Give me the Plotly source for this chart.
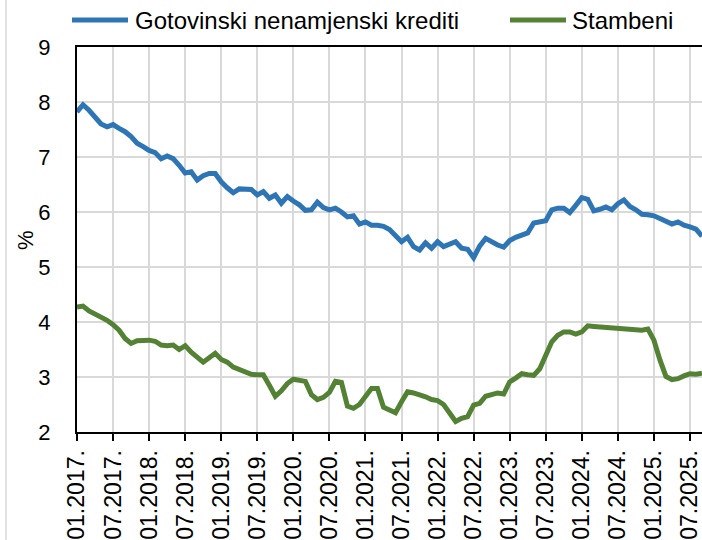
import plotly.graph_objects as go

start_year = 2017
n_months = 105  # 01.2017 .. 09.2025

gotovinski = [
    7.82, 7.95, 7.85, 7.72, 7.60, 7.55, 7.59, 7.52, 7.46, 7.37, 7.25, 7.19,
    7.12, 7.08, 6.97, 7.02, 6.97, 6.85, 6.71, 6.73, 6.58, 6.66, 6.70, 6.70,
    6.55, 6.44, 6.35, 6.42, 6.42, 6.41, 6.31, 6.37, 6.25, 6.31, 6.16, 6.28,
    6.20, 6.13, 6.03, 6.04, 6.18, 6.08, 6.04, 6.07, 6.00, 5.91, 5.93, 5.78,
    5.82, 5.76, 5.76, 5.74, 5.68, 5.58, 5.46, 5.54, 5.37, 5.31, 5.44, 5.34,
    5.46, 5.37, 5.42, 5.46, 5.34, 5.32, 5.17, 5.38, 5.52, 5.45, 5.40, 5.36,
    5.48, 5.54, 5.58, 5.62, 5.80, 5.83, 5.84, 6.04, 6.07, 6.07, 5.99, 6.12,
    6.26, 6.23, 6.02, 6.05, 6.09, 6.04, 6.15, 6.22, 6.10, 6.04, 5.96, 5.95,
    5.93, 5.88, 5.82, 5.78, 5.82, 5.76, 5.73, 5.69, 5.56,
]

stambeni = [
    4.27, 4.29, 4.20, 4.15, 4.10, 4.03, 3.95, 3.85, 3.70, 3.61, 3.66, 3.67,
    3.67, 3.65, 3.58, 3.57, 3.58, 3.50, 3.57, 3.45, 3.36, 3.27, 3.35, 3.43,
    3.32, 3.27, 3.18, 3.13, 3.10, 3.05, 3.04, 3.04, 2.85, 2.65, 2.75, 2.88,
    2.96, 2.93, 2.92, 2.68, 2.59, 2.63, 2.72, 2.92, 2.90, 2.47, 2.43, 2.50,
    2.66, 2.79, 2.79, 2.45, 2.40, 2.35, 2.55, 2.73, 2.71, 2.68, 2.64, 2.59,
    2.57, 2.50, 2.33, 2.19, 2.25, 2.28, 2.49, 2.52, 2.65, 2.67, 2.71, 2.69,
    2.91, 2.98, 3.06, 3.04, 3.03, 3.15, 3.42, 3.64, 3.76, 3.82, 3.82, 3.78,
    3.82, 3.93, 3.92, 3.91, 3.90, 3.89, 3.89, 3.89, 3.88, 3.87, 3.85, 3.87,
    3.67, 3.31, 3.01, 2.95, 2.97, 3.02, 3.06, 3.05, 3.07,
]

months = list(range(n_months))
tick_vals = list(range(0, n_months, 6))
tick_text = [f"{(m % 12) + 1:02d}.{start_year + m // 12}." for m in tick_vals]

names = ["Gotovinski nenamjenski krediti", "Stambeni"]
colors = ["#2E75B6", "#548235"]

FONT = "Liberation Sans, Arial, sans-serif"

fig = go.Figure()
for name, vals, col in zip(names, [gotovinski, stambeni], colors):
    fig.add_trace(go.Scatter(x=months, y=vals, mode="lines", name=name,
                             line=dict(color=col, width=5),
                             showlegend=False, hoverinfo="skip"))

W, H = 702, 540
# plot area in px: x 77..702, y 47..432
L, R, T, B = 77, 702, 47, 432
def px_x(p):
    return (p - L) / (R - L)
def px_y(p):
    return (B - p) / (B - T)

shapes = []
annotations = []
legend_items = [(72, 128, 133, names[0], colors[0]), (510, 566, 570, names[1], colors[1])]
for x0, x1, xt, name, col in legend_items:
    shapes.append(dict(type="line", xref="paper", yref="paper",
                       x0=px_x(x0), x1=px_x(x1), y0=px_y(20), y1=px_y(20),
                       line=dict(color=col, width=5)))
    annotations.append(dict(xref="paper", yref="paper", x=px_x(xt), y=px_y(20),
                            text=name, showarrow=False, xanchor="left", yanchor="middle",
                            font=dict(family=FONT, size=24, color="#000000")))
# outer chart border line on the left
shapes.append(dict(type="line", xref="paper", yref="paper",
                   x0=px_x(6), x1=px_x(6), y0=px_y(0), y1=px_y(540),
                   line=dict(color="#d9d9d9", width=1.5)))
annotations.append(dict(xref="paper", yref="paper", x=px_x(25), y=px_y(240),
                        text="%", showarrow=False, textangle=-90,
                        xanchor="center", yanchor="middle",
                        font=dict(family=FONT, size=22, color="#000000")))

fig.update_layout(
    width=W, height=H,
    margin=dict(l=L, r=W - R, t=T, b=H - B, autoexpand=False),
    paper_bgcolor="white", plot_bgcolor="white",
    font=dict(family=FONT, color="#000000"),
    shapes=shapes, annotations=annotations,
    hovermode=False,
    xaxis=dict(range=[0, n_months - 1], tickmode="array", tickvals=tick_vals,
               ticktext=tick_text, tickangle=-90, automargin=False,
               ticklabeloverflow="allow",
               tickfont=dict(family=FONT, size=23, color="#000000"),
               ticks="outside", ticklen=7, tickwidth=2, tickcolor="#000000",
               showgrid=True, gridcolor="#d9d9d9", gridwidth=1.5,
               showline=True, linecolor="#000000", linewidth=2, mirror=True,
               zeroline=False),
    yaxis=dict(range=[2, 9], dtick=1, automargin=False,
               tickfont=dict(family=FONT, size=22, color="#000000"),
               showgrid=True, gridcolor="#d9d9d9", gridwidth=1.5,
               showline=True, linecolor="#000000", linewidth=2,
               ticks="", ticklabelstandoff=20, zeroline=False),
)

fig.write_html(
    "out.html",
    config={"displayModeBar": False},
    post_script="document.body.style.margin='0';document.body.style.overflow='hidden';",
)
